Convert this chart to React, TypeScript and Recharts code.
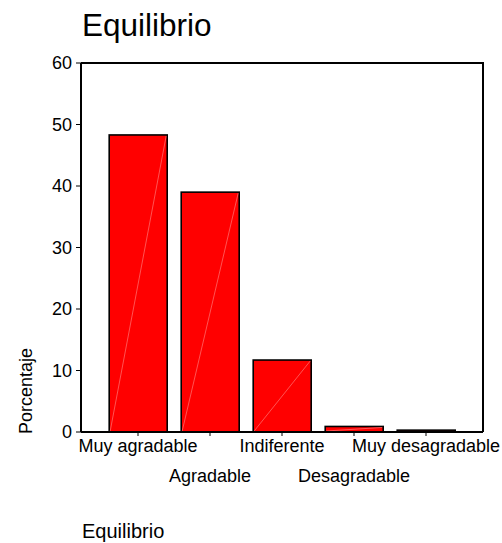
import { BarChart, Bar, XAxis, YAxis } from 'recharts';

const categories = ['Muy agradable', 'Agradable', 'Indiferente', 'Desagradable', 'Muy desagradable'];
const percentages = [48.3, 39.0, 11.7, 0.9, 0.3];
const yTicks = [0, 10, 20, 30, 40, 50, 60];

const chartTitle = 'Equilibrio';
const yLabel = 'Porcentaje';
const footer = 'Equilibrio';

const data = categories.map((name, i) => ({ name, value: percentages[i] }));

const FONT = '"Liberation Sans", Arial, sans-serif';

// labels alternate between two rows, like the original
function StaggeredTick(props: any) {
  const { x, y, payload, index } = props;
  const i = payload?.index ?? index ?? 0;
  return (
    <text
      x={x}
      y={y}
      dy={i % 2 === 0 ? 14 : 44}
      textAnchor="middle"
      fill="#000"
      fontSize={18}
      fontFamily={FONT}
    >
      {payload.value}
    </text>
  );
}

// red bar with black outline and the faint diagonal seam
function SeamBar(props: any) {
  const { x, y, width, height } = props;
  if (width == null || height == null) return null;
  return (
    <g>
      <rect x={x} y={y} width={width} height={height} fill="#ff0000" stroke="#000" strokeWidth={1.6} />
      {height > 4 && (
        <line x1={x + 1} y1={y + height - 1} x2={x + width - 1} y2={y + 1} stroke="#ff8c8c" strokeWidth={0.6} />
      )}
    </g>
  );
}

export default function App() {
  return (
    <div style={{ position: 'absolute', left: 0, top: 0, width: 502, height: 543, background: '#fff' }}>
      <BarChart
        width={502}
        height={543}
        data={data}
        margin={{ top: 63, right: 19, bottom: 51, left: 0 }}
        barCategoryGap="10%"
      >
        <XAxis
          dataKey="name"
          interval={0}
          padding={{ left: 21, right: 21 }}
          height={60}
          axisLine={{ stroke: '#000', strokeWidth: 2 }}
          tickLine={{ stroke: '#000', strokeWidth: 1 }}
          tickSize={4}
          tick={<StaggeredTick />}
        />
        <YAxis
          domain={[0, 60]}
          ticks={yTicks}
          width={81}
          axisLine={{ stroke: '#000', strokeWidth: 2 }}
          tickLine={{ stroke: '#000', strokeWidth: 1 }}
          tickSize={5}
          tickMargin={4}
          tick={{ fill: '#000', fontSize: 18, fontFamily: FONT }}
        />
        <Bar dataKey="value" shape={<SeamBar />} isAnimationActive={false} />
      </BarChart>
      <svg
        width={502}
        height={543}
        style={{ position: 'absolute', left: 0, top: 0, pointerEvents: 'none' }}
      >
        {/* frame around the plot area (top and right edges) */}
        <polyline points="81,63 483,63 483,432" fill="none" stroke="#000" strokeWidth={2} />
        <text x={82} y={36} fontSize={31.5} fontFamily={FONT} fill="#000">
          {chartTitle}
        </text>
        <text
          x={32}
          y={391}
          transform="rotate(-90 32 391)"
          textAnchor="middle"
          fontSize={18}
          fontFamily={FONT}
          fill="#000"
        >
          {yLabel}
        </text>
        <text x={82} y={538} fontSize={20} fontFamily={FONT} fill="#000">
          {footer}
        </text>
      </svg>
    </div>
  );
}
